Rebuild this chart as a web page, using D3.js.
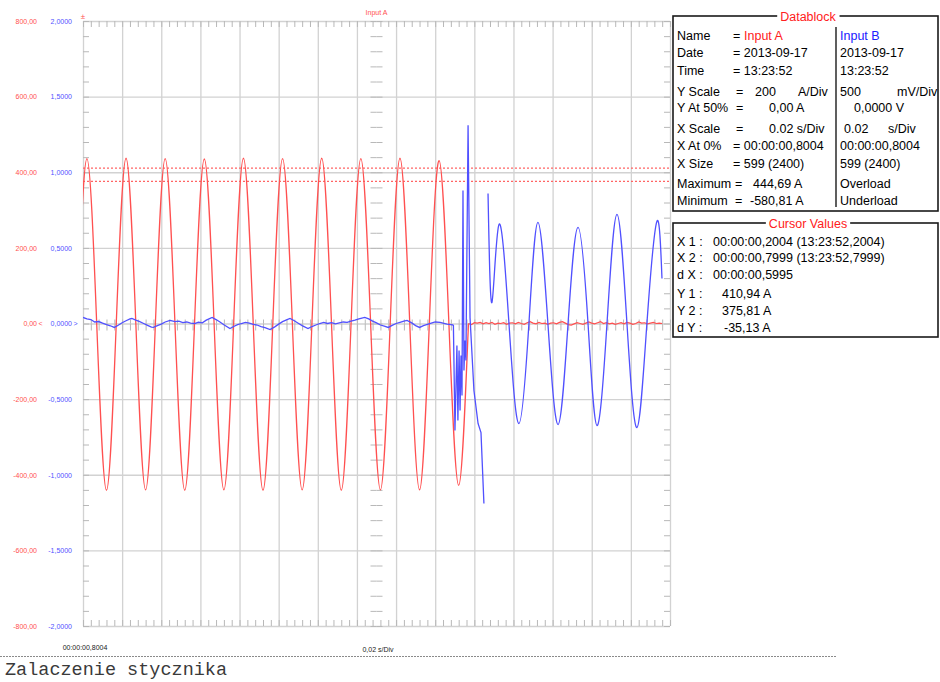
<!DOCTYPE html>
<html><head><meta charset="utf-8">
<script src="https://cdn.jsdelivr.net/npm/d3@7/dist/d3.min.js"></script>
<style>body{margin:0;background:#fff;}svg{display:block;}</style>
</head><body>
<svg id="chart" width="940" height="682"></svg>
<script>
// ---------- DATA ----------
// Input A (current, A) : [time s since 00:00:00,8004, amps]
const redSine = [
 [-0.003, 0],[0.002, 436],[0.007, 0],[0.012, -441],
 [0.017, 0],[0.022, 437],[0.027, 0],[0.032, -440],
 [0.037, 0],[0.042, 436],[0.047, 0],[0.052, -441],
 [0.057, 0],[0.062, 435],[0.067, 0],[0.072, -440],
 [0.077, 0],[0.082, 437],[0.087, 0],[0.092, -441],
 [0.097, 0],[0.102, 436],[0.107, 0],[0.112, -440],
 [0.117, 0],[0.122, 437],[0.127, 0],[0.132, -441],
 [0.137, 0],[0.142, 436],[0.147, 0],[0.152, -440],
 [0.157, 0],[0.162, 437],[0.167, 0],[0.172, -440],
 [0.177, 0],[0.182, 431],[0.187, 0],[0.192, -428],
 [0.197, 0]
];
const redTail = [
 [0.197, 0],[0.1985, -3],[0.200, 2],[0.2015, 1],[0.203, 3],[0.2045, -1],[0.206, 2],[0.2075, 0],
 [0.209, 3],[0.2105, -2],[0.212, 1],[0.2135, 0],[0.215, 2],[0.2165, -2],[0.218, 1],[0.2195, 2],
 [0.221, -1],[0.2225, 3],[0.224, 0],[0.2255, -2],[0.227, 2],[0.2285, 5],[0.230, 1],[0.2315, -1],
 [0.233, 3],[0.2345, 0],[0.236, 1],[0.2375, -2],[0.239, 1],[0.2405, 2],[0.242, -1],[0.2435, 3],
 [0.245, 5],[0.2465, 1],[0.248, -3],[0.2495, -4],[0.251, -1],[0.2525, 2],[0.254, 0],[0.2555, -2],
 [0.257, 1],[0.2585, 4],[0.260, 1],[0.2615, -1],[0.263, 2],[0.2645, 5],[0.266, 0],[0.2675, 2],
 [0.269, -1],[0.2705, 1],[0.272, -2],[0.2735, 0],[0.275, 2],[0.2765, -1],[0.278, 3],[0.2795, 1],
 [0.281, -2],[0.2825, 0],[0.284, 4],[0.2855, 1],[0.287, 2],[0.2885, -1],[0.290, 1],[0.2915, 3],
 [0.293, 0],[0.2945, 1],[0.296, 0]
];
// Input B (voltage, V)
const blueIdle = [
 [0.000, 0.040],[0.002, 0.030],[0.004, 0.026],[0.006, 0.010],[0.008, 0.013],[0.010, 0.002],
 [0.012, -0.008],[0.014, -0.015],[0.016, -0.026],[0.018, -0.012],[0.020, 0.005],[0.022, 0.018],
 [0.024, 0.030],[0.025, 0.033],[0.027, 0.022],[0.029, 0.012],[0.031, 0.000],[0.033, -0.012],
 [0.035, -0.024],[0.036, -0.026],[0.038, -0.014],[0.040, -0.004],[0.042, 0.010],[0.0445, 0.020],
 [0.047, 0.012],[0.049, 0.016],[0.051, 0.006],[0.053, 0.010],[0.055, 0.002],[0.057, 0.000],
 [0.059, 0.008],[0.061, 0.004],[0.063, 0.022],[0.066, 0.040],[0.068, 0.026],[0.070, 0.010],
 [0.072, -0.008],[0.0751, -0.033],[0.077, -0.020],[0.079, -0.008],[0.081, 0.000],[0.083, 0.007],
 [0.085, 0.002],[0.087, -0.006],[0.089, -0.010],[0.091, -0.020],[0.093, -0.028],[0.0956, -0.040],
 [0.098, -0.022],[0.100, -0.004],[0.102, 0.012],[0.104, 0.024],[0.1058, 0.033],[0.108, 0.018],
 [0.110, 0.002],[0.112, -0.014],[0.115, -0.033],[0.117, -0.020],[0.119, -0.010],[0.121, 0.000],
 [0.123, 0.007],[0.125, 0.000],[0.127, 0.006],[0.129, -0.002],[0.131, 0.004],[0.133, 0.010],
 [0.135, 0.007],[0.137, 0.016],[0.139, 0.022],[0.141, 0.030],[0.144, 0.040],[0.146, 0.030],
 [0.148, 0.016],[0.150, 0.004],[0.152, -0.010],[0.154, -0.018],[0.156, -0.026],[0.158, -0.012],
 [0.160, 0.000],[0.162, 0.008],[0.164, 0.016],[0.1656, 0.020],[0.168, 0.004],[0.170, -0.014],
 [0.172, -0.026],[0.174, -0.014],[0.176, -0.006],[0.178, 0.002],[0.180, 0.010],[0.1825, 0.007],
 [0.184, 0.002],[0.186, -0.004],[0.188, -0.007],[0.1893, -0.010]
];
const blueTransient = [
 [0.1893, -0.010],[0.1901, -0.708],[0.1911, -0.146],[0.1916, -0.642],[0.1922, -0.179],
 [0.1927, -0.575],[0.1932, -0.212],[0.1937, -0.476],[0.1942, 0.880],[0.1947, -0.311],
 [0.1952, -0.112],[0.1957, -0.245],[0.1968, 1.310],[0.1978, 0.040],[0.1998, -0.443],
 [0.2019, -0.661],[0.2034, -0.721],[0.2049, -1.190]
];
const blueSine = [
 [0.2070, 0.860],[0.2090, 0.139],[0.2126, 0.655],[0.2177, 0.000],[0.2228, -0.661],
 [0.2279, 0.000],[0.2325, 0.668],[0.2376, 0.000],[0.2428, -0.668],[0.2479, 0.000],
 [0.2530, 0.635],[0.2581, 0.000],[0.2627, -0.675],[0.2678, 0.000],[0.2729, 0.721],
 [0.2780, 0.000],[0.2831, -0.688],[0.2882, 0.000],[0.2933, 0.675],[0.2959, 0.298]
];
const cursorLevels = [410.94, 375.81];
const ampTicks = [-800, -600, -400, -200, 0, 200, 400, 600, 800];
const voltTicks = [-2, -1.5, -1, -0.5, 0, 0.5, 1, 1.5, 2];
const divTicks = [0, 0.02, 0.04, 0.06, 0.08, 0.1, 0.12, 0.14, 0.16, 0.18, 0.2, 0.22, 0.24, 0.26, 0.28, 0.3];

// ---------- LAYOUT ----------
const L = 83, R = 670, T = 21, B = 626;
const svg = d3.select("#chart");
const x = d3.scaleLinear().domain([0, 0.3]).range([L, R]);
const yA = d3.scaleLinear().domain([-800, 800]).range([B, T]);
const yV = d3.scaleLinear().domain([-2, 2]).range([B, T]);
const minorX = d3.range(0, 0.3001, 0.004);
const minorY = d3.range(-800, 801, 40);
const gridCol = "#d2d2d2", tickCol = "#b8b8b8";
const RED = "#ff5050", BLUE = "#5050ff";
const small = "Liberation Sans, Arial, sans-serif";

function style(g, col, w) {
  g.select(".domain").remove();
  g.selectAll(".tick line").attr("stroke", col).attr("stroke-width", w);
}
// grid
svg.append("g").attr("transform", `translate(0,${B})`)
  .call(d3.axisBottom(x).tickValues(divTicks).tickSize(-(B - T)).tickFormat(""))
  .call(g => style(g, gridCol, 1.3));
svg.append("g").attr("transform", `translate(${L},0)`)
  .call(d3.axisLeft(yA).tickValues(ampTicks).tickSize(-(R - L)).tickFormat(""))
  .call(g => style(g, gridCol, 1.3));
// minor ticks on frame
svg.append("g").attr("transform", `translate(0,${T})`)
  .call(d3.axisBottom(x).tickValues(minorX).tickSize(6).tickFormat("")).call(g => style(g, tickCol, 1));
svg.append("g").attr("transform", `translate(0,${B})`)
  .call(d3.axisTop(x).tickValues(minorX).tickSize(6).tickFormat("")).call(g => style(g, tickCol, 1));
svg.append("g").attr("transform", `translate(${L},0)`)
  .call(d3.axisRight(yA).tickValues(minorY).tickSize(6).tickFormat("")).call(g => style(g, tickCol, 1));
svg.append("g").attr("transform", `translate(${R},0)`)
  .call(d3.axisLeft(yA).tickValues(minorY).tickSize(6).tickFormat("")).call(g => style(g, tickCol, 1));
// center cross ticks
svg.append("g").attr("transform", `translate(0,${yA(0)})`)
  .call(d3.axisTop(x).tickValues(minorX).tickSize(4).tickFormat("")).call(g => style(g, tickCol, 1));
svg.append("g").attr("transform", `translate(0,${yA(0)})`)
  .call(d3.axisBottom(x).tickValues(minorX).tickSize(7).tickFormat("")).call(g => style(g, tickCol, 1));
svg.append("g").attr("transform", `translate(${x(0.15)},0)`)
  .call(d3.axisLeft(yA).tickValues(minorY).tickSize(6).tickFormat("")).call(g => style(g, tickCol, 1));
svg.append("g").attr("transform", `translate(${x(0.15)},0)`)
  .call(d3.axisRight(yA).tickValues(minorY).tickSize(6).tickFormat("")).call(g => style(g, tickCol, 1));

// cursor lines
svg.append("g").selectAll("line").data(cursorLevels).join("line")
  .attr("x1", L).attr("x2", R).attr("y1", d => yA(d)).attr("y2", d => yA(d))
  .attr("stroke", "#ff6464").attr("stroke-width", 1.2).attr("stroke-dasharray", "2,2");

// clip
svg.append("clipPath").attr("id", "clip").append("rect")
  .attr("x", L).attr("y", T - 5).attr("width", R - L).attr("height", B - T + 10);
const plot = svg.append("g").attr("clip-path", "url(#clip)");

const lineA = c => d3.line().x(d => x(d[0])).y(d => yA(d[1])).curve(c);
const lineV = c => d3.line().x(d => x(d[0])).y(d => yV(d[1])).curve(c);

plot.append("path").datum(redSine).attr("d", lineA(d3.curveNatural))
  .attr("fill", "none").attr("stroke", RED).attr("stroke-width", 1.3);
plot.append("path").datum(redTail).attr("d", lineA(d3.curveLinear))
  .attr("fill", "none").attr("stroke", RED).attr("stroke-width", 1.2);
plot.append("path").datum(blueIdle).attr("d", lineV(d3.curveLinear))
  .attr("fill", "none").attr("stroke", BLUE).attr("stroke-width", 1.3);
plot.append("path").datum(blueTransient).attr("d", lineV(d3.curveLinear))
  .attr("fill", "none").attr("stroke", BLUE).attr("stroke-width", 1.3);
plot.append("path").datum(blueSine).attr("d", lineV(d3.curveNatural))
  .attr("fill", "none").attr("stroke", BLUE).attr("stroke-width", 1.3);

// y labels
const fmtA = v => v.toFixed(2).replace(".", ",");
const fmtV = v => v.toFixed(4).replace(".", ",");
svg.append("g").attr("transform", "translate(37,0)")
  .call(d3.axisLeft(yA).tickValues(ampTicks).tickSize(0).tickPadding(0).tickFormat(fmtA))
  .call(g => { g.select(".domain").remove();
    g.selectAll("text").attr("fill", RED).attr("font-family", small).attr("font-size", 7); });
svg.append("g").attr("transform", "translate(72,0)")
  .call(d3.axisLeft(yV).tickValues(voltTicks).tickSize(0).tickPadding(0).tickFormat(fmtV))
  .call(g => { g.select(".domain").remove();
    g.selectAll("text").attr("fill", BLUE).attr("font-family", small).attr("font-size", 7); });
svg.append("text").attr("x", 38.5).attr("y", yA(0) + 2.4).text("<")
  .attr("fill", RED).attr("font-family", small).attr("font-size", 7);
svg.append("text").attr("x", 73.5).attr("y", yA(0) + 2.4).text(">")
  .attr("fill", BLUE).attr("font-family", small).attr("font-size", 7);

// x labels
svg.append("g").attr("transform", "translate(1.5,645)")
  .call(d3.axisBottom(x).tickValues([0]).tickSize(0).tickPadding(0).tickFormat(() => "00:00:00,8004"))
  .call(g => { g.select(".domain").remove();
    g.selectAll("text").attr("fill", "#222").attr("font-family", small).attr("font-size", 7); });
svg.append("text").attr("x", x(0.15) + 1.5).attr("y", 652).attr("text-anchor", "middle")
  .attr("fill", "#222").attr("font-family", small).attr("font-size", 7).text("0,02 s/Div");
svg.append("text").attr("x", x(0.15)).attr("y", 14.5).attr("text-anchor", "middle")
  .attr("fill", RED).attr("font-family", small).attr("font-size", 7).text("Input A");
svg.append("text").attr("x", L).attr("y", 19).attr("text-anchor", "middle")
  .attr("fill", RED).attr("font-family", small).attr("font-size", 8).text("±");

// dotted separator + caption
svg.append("line").attr("x1", 0).attr("x2", 837).attr("y1", 656.5).attr("y2", 656.5)
  .attr("stroke", "#8a8a8a").attr("stroke-width", 1).attr("stroke-dasharray", "2,1");
svg.append("text").attr("x", 5).attr("y", 675).attr("fill", "#3a3a3a")
  .attr("font-family", "Liberation Mono, Courier New, monospace").attr("font-size", 18.5)
  .text("Zalaczenie stycznika");

// ---------- DATABLOCK ----------
const F = "Liberation Sans, Arial, sans-serif";
function box(y0, y1, title) {
  const g = svg.append("g");
  g.append("rect").attr("x", 673).attr("y", y0).attr("width", 265).attr("height", y1 - y0)
    .attr("fill", "#fff").attr("stroke", "#1a1a1a").attr("stroke-width", 1.6);
  const bg = g.append("rect").attr("fill", "#fff");
  const t = g.append("text").attr("x", 808).attr("y", y0 + 4.5).attr("text-anchor", "middle")
    .attr("fill", "#ff2020").attr("font-family", F).attr("font-size", 12.5).text(title);
  const bb = t.node().getBBox();
  bg.attr("x", bb.x - 3).attr("y", y0 - 3).attr("width", bb.width + 6).attr("height", 6);
}
box(16, 211, "Datablock");
svg.append("line").attr("x1", 836).attr("x2", 836).attr("y1", 27).attr("y2", 207)
  .attr("stroke", "#1a1a1a").attr("stroke-width", 1.4);
box(223, 337, "Cursor Values");

const dbItems = [
 [677, 35, "Name"], [733, 35, "="], [744, 35, "Input A", "#ff2020"], [840, 35, "Input B", "#2020ff"],
 [677, 52, "Date"], [733, 52, "= 2013-09-17"], [840, 52, "2013-09-17"],
 [677, 70, "Time"], [733, 70, "= 13:23:52"], [840, 70, "13:23:52"],
 [677, 91, "Y Scale"], [736, 91, "="], [755, 91, "200"], [798, 91, "A/Div"], [840, 91, "500"], [897, 91, "mV/Div"],
 [677, 107, "Y At 50%"], [736, 107, "="], [769, 107, "0,00 A"], [854, 107, "0,0000 V"],
 [677, 128, "X Scale"], [736, 128, "="], [769, 128, "0.02 s/Div"], [844, 128, "0.02"], [888, 128, "s/Div"],
 [677, 145, "X At 0%"], [733, 145, "= 00:00:00,8004"], [840, 145, "00:00:00,8004"],
 [677, 163, "X Size"], [733, 163, "= 599 (2400)"], [840, 163, "599 (2400)"],
 [677, 183, "Maximum"], [735, 183, "="], [753, 183, "444,69 A"], [840, 183, "Overload"],
 [677, 200, "Minimum"], [735, 200, "="], [750, 200, "-580,81 A"], [840, 200, "Underload"],
 [677, 241, "X 1 :"], [713, 241, "00:00:00,2004 (13:23:52,2004)"],
 [677, 257, "X 2 :"], [713, 257, "00:00:00,7999 (13:23:52,7999)"],
 [677, 274, "d X :"], [713, 274, "00:00:00,5995"],
 [677, 293, "Y 1 :"], [722, 293, "410,94 A"],
 [677, 310, "Y 2 :"], [722, 310, "375,81 A"],
 [677, 327, "d Y :"], [724, 327, "-35,13 A"]
];
svg.append("g").selectAll("text").data(dbItems).join("text")
  .attr("x", d => d[0]).attr("y", d => d[1] + 4.5).text(d => d[2])
  .attr("fill", d => d[3] || "#000").attr("font-family", F).attr("font-size", 12.5);
</script>
</body></html>
